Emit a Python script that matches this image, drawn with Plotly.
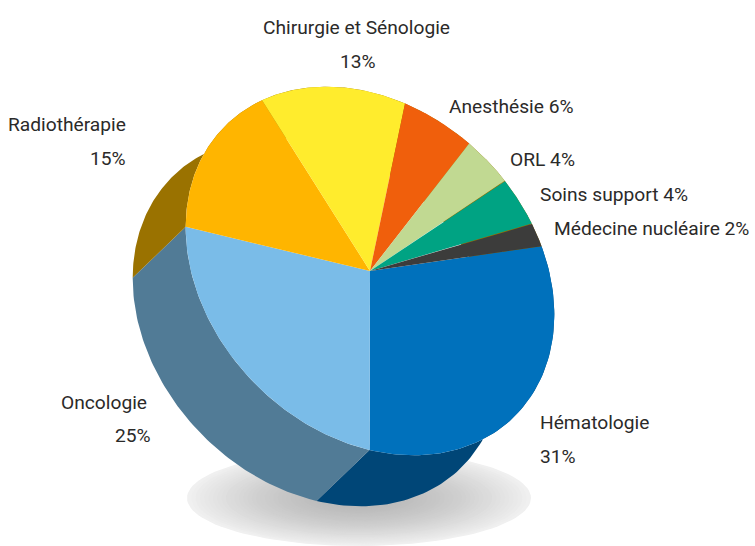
import numpy as np
import plotly.graph_objects as go

# Data, clockwise from Hématologie
labels = ["Hématologie", "Oncologie", "Radiothérapie", "Chirurgie et Sénologie",
          "Anesthésie", "ORL", "Soins support", "Médecine nucléaire"]
values = [31, 25, 15, 13, 6, 4, 4, 2]
top_colors = ["#0071bc", "#7abce8", "#ffb500", "#ffec2d", "#f05f0c", "#c1d992", "#00a383", "#3c3c3b"]
wall_colors = ["#004677", "#517b96", "#9a7200", "#9a7200", "#9a7200", "#9a7200", "#9a7200", "#9a7200"]
label_lines = ["Hématologie", "31%", "Oncologie", "25%", "Radiothérapie", "15%",
               "Chirurgie et Sénologie", "13%", "Anesthésie 6%", "ORL 4%",
               "Soins support 4%", "Médecine nucléaire 2%"]

# Placement of the projected pie and its labels
CX, CY = 370, 271
A, B = 205, 161
START_DEG = 59.6
DX, DY = -53, 51
label_pos = [(539, 422, "left"), (539, 456, "left"), (148, 402, "right"), (152, 435, "right"),
             (127, 124, "right"), (127, 158, "right"), (356, 27, "center"), (358, 61, "center"),
             (448, 106, "left"), (509, 159, "left"), (539, 194, "left"), (553, 228, "left")]
FONT = "Roboto"
FONT_SIZE = 19.2


def project(theta):
    u, v = A * np.cos(theta), B * np.sin(theta)
    return CX + (u + v) / np.sqrt(2), CY + (u - v) / np.sqrt(2)


fig = go.Figure()

# Floor shadow
SHADOW_X, SHADOW_Y, SHADOW_RX, SHADOW_RY = 359, 498, 172, 48
t = np.linspace(0, 2 * np.pi, 121)
for s in np.linspace(1, 0.02, 40):
    g = int(round(182 + (240 - 182) * s ** 1.6))
    fig.add_trace(go.Scatter(
        x=SHADOW_X + SHADOW_RX * s * np.cos(t), y=SHADOW_Y + SHADOW_RY * s * np.sin(t),
        mode="lines", line=dict(width=0), fill="toself",
        fillcolor=f"rgb({g},{g},{g})", hoverinfo="skip", showlegend=False))

fractions = np.array(values) / sum(values)
edges = np.deg2rad(START_DEG) - 2 * np.pi * np.concatenate([[0], np.cumsum(fractions)])

# Side walls
for i, color in enumerate(wall_colors):
    th = np.linspace(edges[i], edges[i + 1], 80)
    x, y = project(th)
    fig.add_trace(go.Scatter(
        x=np.concatenate([x, x[::-1] + DX]), y=np.concatenate([y, y[::-1] + DY]),
        mode="lines", line=dict(width=0), fill="toself", fillcolor=color,
        hoverinfo="skip", showlegend=False))

# Top face
for i, color in enumerate(top_colors):
    th = np.linspace(edges[i], edges[i + 1], 80)
    x, y = project(th)
    fig.add_trace(go.Scatter(
        x=np.concatenate([[CX], x, [CX]]), y=np.concatenate([[CY], y, [CY]]),
        mode="lines", line=dict(width=0), fill="toself", fillcolor=color,
        name=labels[i], showlegend=False))

for text, (x, y, align) in zip(label_lines, label_pos):
    fig.add_annotation(x=x, y=y, text=text, showarrow=False, xanchor=align, yanchor="middle",
                       align=align, font=dict(family=FONT, size=FONT_SIZE, color="#2b2a29"), borderpad=0)

fig.update_layout(
    width=755, height=546, margin=dict(l=0, r=0, t=0, b=0), showlegend=False,
    paper_bgcolor="white", plot_bgcolor="white",
    xaxis=dict(range=[0, 755], visible=False, fixedrange=True),
    yaxis=dict(range=[546, 0], visible=False, fixedrange=True),
)
fig.write_html("out.html", config=dict(displayModeBar=False),
               post_script="document.body.style.margin='0';document.body.style.overflow='hidden';")
